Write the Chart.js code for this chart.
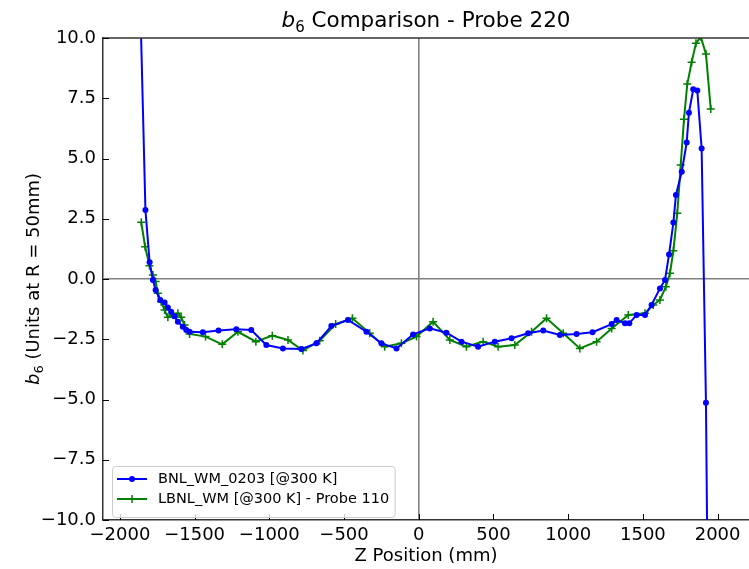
<!DOCTYPE html>
<html>
<head>
<meta charset="utf-8">
<script src="https://cdn.jsdelivr.net/npm/chart.js@4/dist/chart.umd.min.js"></script>
<style>
  html, body { margin: 0; padding: 0; background: #fff; }
  #wrap { width: 749px; height: 569px; }
</style>
</head>
<body>
<div id="wrap"><canvas id="myChart" width="749" height="569"></canvas></div>
<script>
// Z positions (mm) and b6 values
const bnlZ = [-1870, -1829, -1801, -1779, -1761, -1730, -1701, -1679, -1657, -1635,
  -1612, -1579, -1556, -1534, -1445, -1340, -1221, -1121, -1020, -909,
  -786, -685, -585, -474, -350, -250, -149, -38, 74, 185,
  286, 397, 509, 621, 732, 833, 944, 1056, 1163, 1291,
  1324, 1380, 1409, 1458, 1514, 1558, 1614, 1648, 1675, 1704,
  1721, 1760, 1793, 1808, 1837, 1864, 1893, 1922, 1935];
const bnlB6 = [13, 2.86, 0.69, -0.04, -0.46, -0.87, -0.98, -1.18, -1.36, -1.55,
  -1.77, -1.98, -2.12, -2.19, -2.21, -2.14, -2.09, -2.12, -2.74, -2.88,
  -2.90, -2.67, -1.95, -1.70, -2.19, -2.67, -2.88, -2.30, -2.05, -2.23,
  -2.60, -2.81, -2.60, -2.46, -2.25, -2.14, -2.32, -2.28, -2.21, -1.87,
  -1.70, -1.84, -1.84, -1.49, -1.49, -1.08, -0.39, -0.04, 1.02, 2.34,
  3.49, 4.45, 5.66, 6.90, 7.87, 7.82, 5.42, -5.13, -14];

const lbnlZ = [-1857, -1831, -1802, -1779, -1761, -1746, -1724, -1701, -1679, -1646,
  -1612, -1590, -1567, -1534, -1427, -1315, -1210, -1090, -980, -875,
  -775, -663, -556, -444, -328, -228, -116, -15, 96, 208,
  319, 431, 531, 643, 755, 855, 967, 1078, 1190, 1291,
  1402, 1514, 1569, 1614, 1654, 1681, 1704, 1730, 1753, 1775,
  1797, 1826, 1855, 1887, 1922, 1954];
const lbnlB6 = [2.35, 1.34, 0.55, 0.17, -0.10, -0.59, -0.94, -1.29, -1.59, -1.49,
  -1.42, -1.59, -1.91, -2.28, -2.39, -2.71, -2.19, -2.60, -2.35, -2.53,
  -2.97, -2.56, -1.87, -1.63, -2.25, -2.81, -2.67, -2.39, -1.77, -2.53,
  -2.81, -2.60, -2.81, -2.74, -2.19, -1.63, -2.25, -2.88, -2.60, -2.05,
  -1.49, -1.42, -1.08, -0.87, -0.32, 0.24, 1.17, 2.73, 4.73, 6.63,
  8.09, 8.99, 9.78, 10.05, 9.34, 7.05];

const xTickValues = [-2000, -1500, -1000, -500, 0, 500, 1000, 1500, 2000];
const yTickValues = [-10, -7.5, -5, -2.5, 0, 2.5, 5, 7.5, 10];

const seriesLabels = ['BNL_WM_0203 [@300 K]', 'LBNL_WM [@300 K] - Probe 110'];
const titleRest = ' Comparison - Probe 220';
const yLabelRest = ' (Units at R = 50mm)';
const xLabel = 'Z Position (mm)';

const FONT = '"DejaVu Sans", "Liberation Sans", sans-serif';
const minus = v => String(v).replace('-', '\u2212');

// b with subscript 6, followed by plain text, centred on (0,0)
function drawB6(ctx, size, rest) {
  const big = size + 'px ' + FONT;
  const ital = 'oblique ' + size + 'px ' + FONT;
  const sub = Math.round(size * 0.7) + 'px ' + FONT;
  ctx.font = ital; const wb = ctx.measureText('b').width;
  ctx.font = sub; const w6 = ctx.measureText('6').width;
  ctx.font = big; const wr = ctx.measureText(rest).width;
  let x = -(wb + w6 + wr) / 2;
  ctx.textAlign = 'left';
  ctx.textBaseline = 'alphabetic';
  ctx.font = ital; ctx.fillText('b', x, 0); x += wb;
  ctx.font = sub; ctx.fillText('6', x, size * 0.22); x += w6;
  ctx.font = big; ctx.fillText(rest, x, 0);
}

const decorPlugin = {
  id: 'decor',
  afterDraw(chart) {
    const ctx = chart.ctx;
    const a = chart.chartArea;
    const xs = chart.scales.x, ys = chart.scales.y;
    ctx.save();
    ctx.fillStyle = '#000';

    // top spine
    ctx.strokeStyle = '#333';
    ctx.lineWidth = 1.5;
    ctx.beginPath(); ctx.moveTo(a.left, a.top); ctx.lineTo(a.right, a.top); ctx.stroke();

    // inward ticks
    ctx.strokeStyle = '#000';
    ctx.lineWidth = 1;
    xs.ticks.forEach(t => {
      const px = Math.round(xs.getPixelForValue(t.value)) + 0.5;
      ctx.beginPath(); ctx.moveTo(px, a.bottom); ctx.lineTo(px, a.bottom - 6); ctx.stroke();
    });
    ys.ticks.forEach(t => {
      const py = Math.round(ys.getPixelForValue(t.value)) + 0.5;
      ctx.beginPath(); ctx.moveTo(a.left, py); ctx.lineTo(a.left + 6, py); ctx.stroke();
    });

    // title
    ctx.save();
    ctx.translate((a.left + a.right) / 2, 27);
    drawB6(ctx, 21.5, titleRest);
    ctx.restore();

    // y label
    ctx.save();
    ctx.translate(39, (a.top + a.bottom) / 2);
    ctx.rotate(-Math.PI / 2);
    drawB6(ctx, 18, yLabelRest);
    ctx.restore();

    // x label
    ctx.font = '18px ' + FONT;
    ctx.textAlign = 'center';
    ctx.textBaseline = 'alphabetic';
    ctx.fillText(xLabel, (a.left + a.right) / 2, 561);

    // legend (lower left, inside the axes)
    ctx.font = '14.5px ' + FONT;
    const sets = chart.data.datasets;
    const tw = Math.max(...sets.map(d => ctx.measureText(d.label).width));
    const bx = 112.5, by = 466.5, bw = 158 - bx + tw + 6, bh = 51;
    ctx.beginPath();
    ctx.roundRect(bx, by, bw, bh, 3);
    ctx.fillStyle = 'rgba(255,255,255,0.8)';
    ctx.fill();
    ctx.strokeStyle = '#cccccc';
    ctx.lineWidth = 1;
    ctx.stroke();
    sets.forEach((d, i) => {
      const cy = 479 + i * 20;
      ctx.strokeStyle = d.borderColor;
      ctx.lineWidth = d.borderWidth;
      ctx.beginPath(); ctx.moveTo(117, cy); ctx.lineTo(147, cy); ctx.stroke();
      if (d.pointStyle === 'cross') {
        ctx.lineWidth = 1.5;
        ctx.beginPath();
        ctx.moveTo(132 - 4, cy); ctx.lineTo(132 + 4, cy);
        ctx.moveTo(132, cy - 4); ctx.lineTo(132, cy + 4);
        ctx.stroke();
      } else {
        ctx.fillStyle = d.borderColor;
        ctx.beginPath(); ctx.arc(132, cy, 3, 0, Math.PI * 2); ctx.fill();
      }
      ctx.fillStyle = '#000';
      ctx.textAlign = 'left';
      ctx.textBaseline = 'middle';
      ctx.fillText(d.label, 158, cy);
    });
    ctx.restore();
  }
};

const zeroLine = c => (c.tick && c.tick.value === 0) ? '#808080' : 'rgba(0,0,0,0)';

new Chart(document.getElementById('myChart').getContext('2d'), {
  type: 'scatter',
  data: {
    datasets: [
      {
        label: seriesLabels[0],
        data: bnlZ.map((z, i) => ({ x: z, y: bnlB6[i] })),
        showLine: true,
        borderColor: '#0000ff',
        backgroundColor: '#0000ff',
        borderWidth: 2,
        pointRadius: 3,
        pointBorderWidth: 0,
        pointStyle: 'circle'
      },
      {
        label: seriesLabels[1],
        data: lbnlZ.map((z, i) => ({ x: z, y: lbnlB6[i] })),
        showLine: true,
        borderColor: '#008000',
        backgroundColor: '#008000',
        borderWidth: 2,
        pointRadius: 4,
        pointBorderWidth: 1.5,
        pointStyle: 'cross'
      }
    ]
  },
  options: {
    responsive: false,
    animation: false,
    layout: { autoPadding: false, padding: { top: 38, left: 0, right: 0, bottom: 0 } },
    plugins: {
      legend: { display: false },
      title: { display: false },
      tooltip: { enabled: false }
    },
    scales: {
      x: {
        type: 'linear',
        min: -2113,
        max: 2210,
        afterFit: s => { s.height = 49; s.paddingLeft = 0; s.paddingRight = 0; },
        afterBuildTicks: s => { s.ticks = xTickValues.map(v => ({ value: v })); },
        ticks: {
          autoSkip: false,
          padding: 5,
          color: '#000',
          font: { family: FONT, size: 18 },
          maxRotation: 0,
          callback: v => minus(v)
        },
        grid: { drawTicks: false, color: zeroLine, lineWidth: 1.6 },
        border: { display: true, color: '#333', width: 1.5 }
      },
      y: {
        type: 'linear',
        min: -10,
        max: 10,
        afterFit: s => { s.width = 103; },
        afterBuildTicks: s => { s.ticks = yTickValues.map(v => ({ value: v })); },
        ticks: {
          autoSkip: false,
          padding: 7,
          color: '#000',
          font: { family: FONT, size: 18 },
          callback: v => minus(v.toFixed(1))
        },
        grid: { drawTicks: false, color: zeroLine, lineWidth: 1.6 },
        border: { display: true, color: '#333', width: 1.5 }
      }
    }
  },
  plugins: [decorPlugin]
});
</script>
</body>
</html>
